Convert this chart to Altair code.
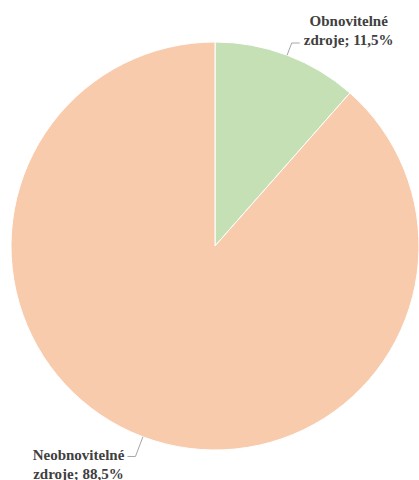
import altair as alt
import pandas as pd

categories = ["Obnovitelné zdroje", "Neobnovitelné zdroje"]
shares = [11.5, 88.5]
labels = ["Obnovitelné\nzdroje; 11,5%", "Neobnovitelné\nzdroje; 88,5%"]
colors = ["#C5E0B4", "#F8CBAD"]

df = pd.DataFrame({
    "cat": categories,
    "share": shares,
    "label": labels,
    "order": list(range(len(categories))),
})

CX, CY, R = 215, 246, 204

base = (
    alt.Chart(df)
    .transform_window(cum="sum(share)", sort=[alt.SortField("order")], frame=[None, 0])
    .transform_joinaggregate(total="sum(share)")
    .transform_calculate(
        mid="(datum.cum - datum.share/2)/datum.total*2*PI",
        dir="sin(datum.mid) >= 0 ? 1 : -1",
    )
    .transform_calculate(
        rb="221 - 4*datum.dir",
    )
    .transform_calculate(
        ex=f"{CX} + {R}*sin(datum.mid)",
        ey=f"{CY} - {R}*cos(datum.mid)",
        bx=f"{CX} + datum.rb*sin(datum.mid)",
        by=f"{CY} - datum.rb*cos(datum.mid)",
    )
    .transform_calculate(
        hx="datum.bx + 8*datum.dir",
        tx="datum.bx + 57*datum.dir",
        ty="datum.by - 11.5 - 10.5*datum.dir",
    )
)

pie = alt.Chart(df).mark_arc(stroke="white", strokeWidth=1).encode(
    theta=alt.Theta("share:Q", stack=True),
    order=alt.Order("order:O"),
    color=alt.Color("cat:N", scale=alt.Scale(domain=categories, range=colors), legend=None),
    x=alt.value(CX),
    y=alt.value(CY),
    radius=alt.value(R),
)

lead1 = base.mark_rule(color="#A6A6A6", strokeWidth=1).encode(
    x=alt.X("ex:Q", scale=None), y=alt.Y("ey:Q", scale=None),
    x2="bx:Q", y2="by:Q",
)
lead2 = base.mark_rule(color="#A6A6A6", strokeWidth=1).encode(
    x=alt.X("bx:Q", scale=None), y=alt.Y("by:Q", scale=None),
    x2="hx:Q", y2="by:Q",
)

text = base.mark_text(
    font="'Liberation Serif', 'Times New Roman', serif", fontWeight="bold", fontSize=15,
    color="#404040", align="center", baseline="middle", lineBreak="\n", lineHeight=18.5,
).encode(
    x=alt.X("tx:Q", scale=None), y=alt.Y("ty:Q", scale=None), text="label:N",
)

chart = (
    alt.layer(pie, lead1, lead2, text)
    .properties(width=419, height=480, autosize=alt.AutoSizeParams(type="none"), padding=0)
    .configure_view(stroke=None)
)

chart.save("out.html", embed_options={"renderer": "svg", "actions": False})
